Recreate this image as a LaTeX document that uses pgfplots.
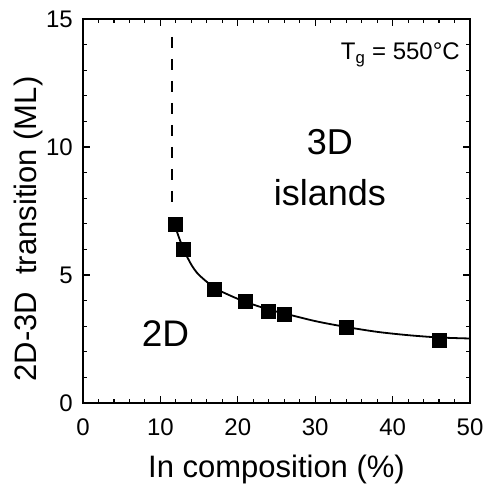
\documentclass[border=0pt]{standalone}
\usepackage{pgfplots}
\pgfplotsset{compat=1.18}
\usepackage{fontspec}
\setmainfont{Liberation Sans}
\begin{document}
\begin{tikzpicture}
\begin{axis}[
  scale only axis,
  width=387pt, height=384pt,
  xmin=0, xmax=50, ymin=0, ymax=15,
  xtick={0,10,...,50}, ytick={0,5,10,15},
  minor x tick num=4, minor y tick num=4,
  tick align=inside,
  major tick length=7pt, minor tick length=4pt,
  axis line style={line width=1.3pt},
  every tick/.style={black, line width=1.1pt},
  /pgf/number format/assume math mode=true,
  ticklabel style={font=\fontsize{24}{28}\selectfont, inner sep=0pt},
  xticklabel style={anchor=base, yshift=-32pt},
  yticklabel style={anchor=east, xshift=-10pt},
  xlabel={In composition (\%)},
  ylabel={2D-3D\ \ transition (ML)},
  label style={font=\fontsize{31}{36}\selectfont, inner sep=0pt},
  xlabel style={at={(axis description cs:0.5,-0.193)}, anchor=base},
  ylabel style={at={(axis description cs:-0.119,0.453)}, anchor=base},
  clip=false,
]
\addplot[black, line width=2.6pt, dash pattern=on 11pt off 11pt] coordinates {(11.5,14.3) (11.5,7.8)};
\addplot[black, line width=1.8pt, smooth, tension=0.5] coordinates {
 (11.7,7.1) (12.3,6.55) (13,6.0) (14,5.4) (15,5.0) (17,4.5) (19,4.2) (21,3.95)
 (24,3.65) (26,3.5) (30,3.2) (34,2.97) (38,2.78) (42,2.65) (46,2.56) (50,2.52)};
\addplot[only marks, mark=square*, mark size=7pt, mark options={fill=black, draw=black}] coordinates {
 (11.9,7.0) (12.9,6.0) (16.9,4.45) (20.9,3.98) (23.9,3.6) (26,3.48) (34,2.97) (46,2.47)};
\node[font=\fontsize{37}{42}\selectfont, anchor=base, inner sep=0pt] at (axis cs:10.66,2.19) {2D};
\node[font=\fontsize{36}{42}\selectfont, anchor=base, inner sep=0pt] at (axis cs:31.9,9.69) {3D};
\node[font=\fontsize{36}{42}\selectfont, anchor=base, inner sep=0pt] at (axis cs:31.9,7.73) {islands};
\node[font=\fontsize{24}{28}\selectfont, anchor=base east, inner sep=0pt] at (axis cs:48.7,13.4) {T$_{\mathrm{g}}$ = 550°C};
\end{axis}
\path ([shift={(-83pt,-82pt)}]current axis.south west) rectangle ([shift={(17pt,19pt)}]current axis.north east);
\end{tikzpicture}
\end{document}
